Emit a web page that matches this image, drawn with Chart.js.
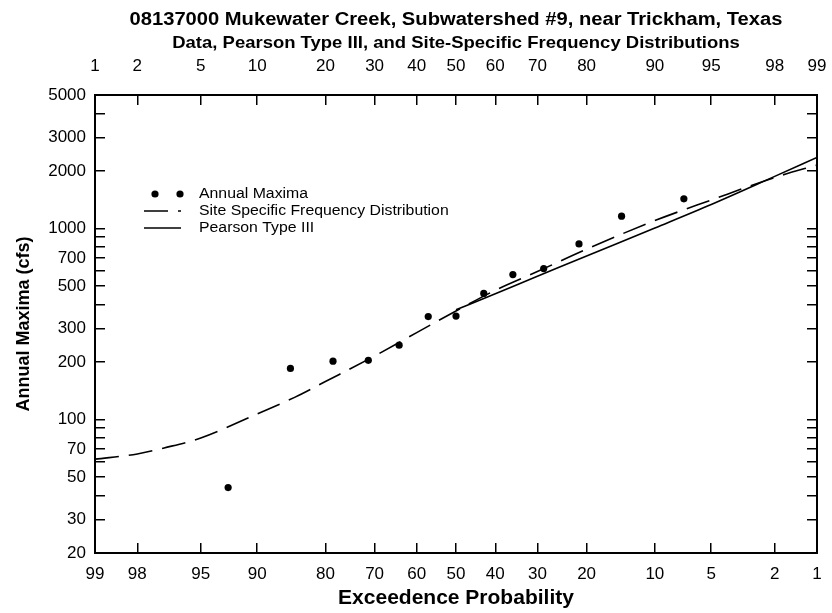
<!DOCTYPE html>
<html>
<head>
<meta charset="utf-8">
<script src="https://cdn.jsdelivr.net/npm/chart.js@4.4.1/dist/chart.umd.min.js"></script>
<style>
  html, body { margin: 0; padding: 0; background: #fff; }
  #wrap { width: 832px; height: 613px; }
</style>
</head>
<body>
<div id="wrap"><canvas id="freqChart" width="832" height="613"></canvas></div>
<script>
// annual maxima, Weibull plotting positions (exceedance %, cfs)
const obsExceed = [7.1, 14.3, 21.4, 28.6, 35.7, 42.9, 50.0, 57.1, 64.3, 71.4, 78.6, 85.7, 92.9];
const obsFlow = [1430, 1160, 830, 617, 574, 457, 348, 346, 245, 204, 202, 185, 44];

// site specific frequency distribution
const siteExceed = [99, 98, 97, 95, 90, 85, 80, 70, 60, 50, 40, 30, 20, 10, 5, 2, 1];
const siteFlow = [62, 66, 71, 80, 107, 131, 158, 215, 285, 370, 475, 595, 780, 1100, 1410, 1850, 2150];

// pearson type III
const p3Exceed = [50, 40, 30, 20, 10, 5, 2, 1];
const p3Flow = [375, 456, 562, 718, 1007, 1336, 1875, 2355];

// axis ticks
const exceedTicks = [99, 98, 95, 90, 80, 70, 60, 50, 40, 30, 20, 10, 5, 2, 1];
const nonExceedTicks = [1, 2, 5, 10, 20, 30, 40, 50, 60, 70, 80, 90, 95, 98, 99];
const flowTicks = [20, 30, 40, 50, 60, 70, 80, 90, 100, 200, 300, 400, 500, 600, 700, 800, 900, 1000, 2000, 3000, 4000, 5000];
const flowLabels = [20, 30, 50, 70, 100, 200, 300, 500, 700, 1000, 2000, 3000, 5000];

const FONT = "'Liberation Sans', Arial, sans-serif";

// inverse standard normal (Acklam)
function normInv(p) {
  const a = [-3.969683028665376e+01, 2.209460984245205e+02, -2.759285104469687e+02, 1.383577518672690e+02, -3.066479806614716e+01, 2.506628277459239e+00];
  const b = [-5.447609879822406e+01, 1.615858368580409e+02, -1.556989798598866e+02, 6.680131188771972e+01, -1.328068155288572e+01];
  const c = [-7.784894002430293e-03, -3.223964580411365e-01, -2.400758277161838e+00, -2.549732539343734e+00, 4.374664141464968e+00, 2.938163982698783e+00];
  const d = [7.784695709041462e-03, 3.224671290700398e-01, 2.445134137142996e+00, 3.754408661907416e+00];
  const pl = 0.02425;
  let q, r;
  if (p < pl) {
    q = Math.sqrt(-2 * Math.log(p));
    return (((((c[0]*q+c[1])*q+c[2])*q+c[3])*q+c[4])*q+c[5]) / ((((d[0]*q+d[1])*q+d[2])*q+d[3])*q+1);
  }
  if (p <= 1 - pl) {
    q = p - 0.5; r = q * q;
    return (((((a[0]*r+a[1])*r+a[2])*r+a[3])*r+a[4])*r+a[5])*q / (((((b[0]*r+b[1])*r+b[2])*r+b[3])*r+b[4])*r+1);
  }
  q = Math.sqrt(-2 * Math.log(1 - p));
  return -(((((c[0]*q+c[1])*q+c[2])*q+c[3])*q+c[4])*q+c[5]) / ((((d[0]*q+d[1])*q+d[2])*q+d[3])*q+1);
}

// exceedance % -> standard normal variate
const exZ = e => normInv(1 - e / 100);
const nonExZ = n => normInv(n / 100);
const pts = (xs, ys) => xs.map((e, i) => ({ x: exZ(e), y: ys[i] }));

const zMin = exZ(exceedTicks[0]);
const zMax = exZ(exceedTicks[exceedTicks.length - 1]);

// text a little wider than the font, like the original
function wideText(ctx, text, x, y, sx) {
  ctx.save();
  ctx.translate(x, y);
  ctx.scale(sx, 1);
  ctx.fillText(text, 0, 0);
  ctx.restore();
}

// titles centred on the plot area
const titlePlugin = {
  id: "plotTitles",
  afterDraw(chart) {
    const { ctx, chartArea } = chart;
    const cx = (chartArea.left + chartArea.right) / 2;
    ctx.save();
    ctx.fillStyle = "#000";
    ctx.textAlign = "center";
    ctx.textBaseline = "middle";
    ctx.font = "bold 18px " + FONT;
    wideText(ctx, "08137000 Mukewater Creek, Subwatershed #9, near Trickham, Texas", cx, 20, 1.12);
    ctx.font = "bold 16.5px " + FONT;
    wideText(ctx, "Data, Pearson Type III, and Site-Specific Frequency Distributions", cx, 43, 1.12);
    ctx.restore();
  }
};

// legend drawn inside the plot
const legendPlugin = {
  id: "insideLegend",
  afterDatasetsDraw(chart) {
    const { ctx, chartArea } = chart;
    const x0 = chartArea.left + 49;
    const y0 = chartArea.top + 99;
    const rowH = 17;
    ctx.save();
    ctx.font = "14px " + FONT;
    ctx.textBaseline = "middle";
    ctx.fillStyle = "#000";
    chart.data.datasets.forEach((ds, i) => {
      const y = y0 + i * rowH;
      if (ds.showLine === false) {
        [x0 + 11, x0 + 36].forEach(px => {
          ctx.beginPath();
          ctx.arc(px, y, ds.pointRadius, 0, Math.PI * 2);
          ctx.fill();
        });
      } else {
        ctx.beginPath();
        ctx.strokeStyle = ds.borderColor;
        ctx.lineWidth = ds.borderWidth;
        ctx.setLineDash(ds.borderDash || []);
        ctx.moveTo(x0, y);
        ctx.lineTo(x0 + 37, y);
        ctx.stroke();
        ctx.setLineDash([]);
      }
      wideText(ctx, ds.label, x0 + 55, y, 1.13);
    });
    ctx.restore();
  }
};

const tickFont = { family: FONT, size: 17 };
const axisBorder = { color: "#000", width: 2 };
const tickGrid = { drawOnChartArea: false, tickLength: -10, color: "#000", lineWidth: 1.5 };
const noPadX = s => { s.paddingLeft = 0; s.paddingRight = 0; };
const noPadY = s => { s.paddingTop = 0; s.paddingBottom = 0; };

new Chart(document.getElementById("freqChart"), {
  type: "scatter",
  data: {
    datasets: [
      {
        label: "Annual Maxima",
        data: pts(obsExceed, obsFlow),
        showLine: false,
        pointRadius: 3.6,
        pointBackgroundColor: "#000",
        pointBorderWidth: 0
      },
      {
        label: "Site Specific Frequency Distribution",
        data: pts(siteExceed, siteFlow),
        showLine: true,
        borderColor: "#000",
        borderWidth: 1.6,
        borderDash: [24, 10],
        pointRadius: 0,
        cubicInterpolationMode: "monotone"
      },
      {
        label: "Pearson Type III",
        data: pts(p3Exceed, p3Flow),
        showLine: true,
        borderColor: "#000",
        borderWidth: 1.6,
        pointRadius: 0,
        cubicInterpolationMode: "monotone"
      }
    ]
  },
  options: {
    responsive: false,
    devicePixelRatio: 1,
    animation: false,
    layout: { padding: 0 },
    plugins: {
      legend: { display: false },
      tooltip: { enabled: false }
    },
    scales: {
      x: {
        type: "linear",
        position: "bottom",
        min: zMin,
        max: zMax,
        bounds: "data",
        afterBuildTicks: s => { s.ticks = exceedTicks.map(e => ({ value: exZ(e) })); },
        afterFit: s => { s.height = 60; noPadX(s); },
        ticks: {
          autoSkip: false, maxRotation: 0, padding: 21, color: "#000", font: tickFont,
          callback: (v, i) => String(exceedTicks[i])
        },
        grid: tickGrid,
        border: axisBorder,
        title: {
          display: true, text: "Exceedence Probability", color: "#000",
          font: { family: FONT, size: 21, weight: "bold" },
          padding: { top: 0, bottom: 2 }
        }
      },
      x2: {
        type: "linear",
        position: "top",
        min: zMin,
        max: zMax,
        bounds: "data",
        afterBuildTicks: s => { s.ticks = nonExceedTicks.map(n => ({ value: nonExZ(n) })); },
        afterFit: s => { s.height = 95; noPadX(s); },
        ticks: {
          autoSkip: false, maxRotation: 0, padding: 28, color: "#000", font: tickFont,
          callback: (v, i) => String(nonExceedTicks[i])
        },
        grid: tickGrid,
        border: axisBorder
      },
      y: {
        type: "logarithmic",
        position: "left",
        min: flowTicks[0],
        max: flowTicks[flowTicks.length - 1],
        afterBuildTicks: s => { s.ticks = flowTicks.map(v => ({ value: v })); },
        afterFit: s => { s.width = 95; noPadY(s); },
        ticks: {
          autoSkip: false, padding: 19, color: "#000", font: tickFont,
          callback: v => (flowLabels.includes(v) ? String(v) : "")
        },
        grid: tickGrid,
        border: axisBorder,
        title: {
          display: true, text: "Annual Maxima (cfs)", color: "#000",
          font: { family: FONT, size: 18, weight: "bold" },
          padding: { top: 13, bottom: 0 }
        }
      },
      y2: {
        type: "logarithmic",
        position: "right",
        min: flowTicks[0],
        max: flowTicks[flowTicks.length - 1],
        afterBuildTicks: s => { s.ticks = flowTicks.map(v => ({ value: v })); },
        afterFit: s => { s.width = 15; noPadY(s); },
        ticks: { display: false },
        grid: tickGrid,
        border: axisBorder
      }
    }
  },
  plugins: [titlePlugin, legendPlugin]
});
</script>
</body>
</html>
